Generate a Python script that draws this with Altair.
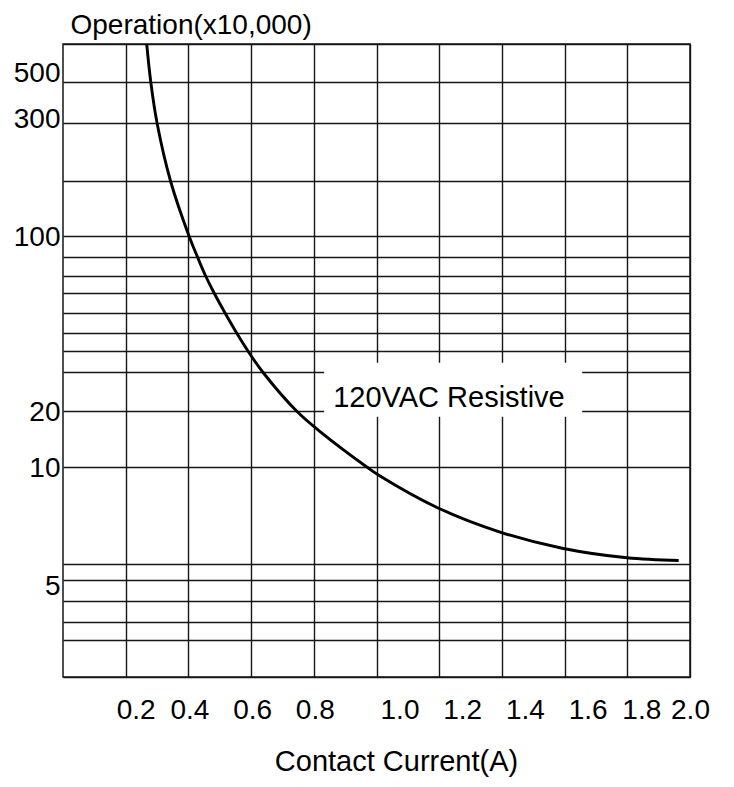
import altair as alt
import pandas as pd

# ---- data ----
current_a = [0.267, 0.280, 0.300, 0.343, 0.402, 0.429, 0.455, 0.482, 0.517, 0.554,
             0.590, 0.637, 0.745, 0.820, 0.969, 1.006, 1.198, 1.394, 1.592, 1.799, 1.964]
operations = [1000, 500, 300, 200, 100, 90, 80, 70, 60, 50,
              40, 30, 20, 15.5, 10, 9.59, 8.05, 7.10, 6.52, 6.20, 6.11]

x_ticks = [0.2, 0.4, 0.6, 0.8, 1.0, 1.2, 1.4, 1.6, 1.8, 2.0]
y_grid = [1, 2, 3, 4, 5, 6, 10, 20, 30, 40, 50, 60, 70, 80, 90, 100, 200, 300, 500, 1000]
y_labels = [5, 10, 20, 100, 300, 500]

label_text = ["120VAC Resistive"]
label_x = [1.231]
label_y = [22.9]
label_box_x = [0.833]
label_box_x2 = [1.656]
label_box_y = [18.6]
label_box_y2 = [34.0]

# ---- layout / scale settings (hand-drawn, unevenly spaced grid) ----
W, H = 627, 633
y_range = [633, 596, 578, 557, 536, 520, 423, 367, 328, 307,
           289, 269, 249, 232, 213, 192, 137, 79, 38, 0]
FONT = "Liberation Sans"
INK = "#161616"

curve = pd.DataFrame({"current": current_a, "ops": operations})
ann = pd.DataFrame({"t": label_text, "x": label_x, "y": label_y})
box = pd.DataFrame({"x": label_box_x, "x2": label_box_x2,
                    "y": label_box_y, "y2": label_box_y2})

x_scale = alt.Scale(domain=[0, 2], nice=False, zero=False)
y_scale = alt.Scale(type="log", domain=y_grid, range=y_range, nice=False)

x_axis = alt.Axis(
    values=x_ticks, format=".1f", title="Contact Current(A)",
    grid=True, gridColor=INK, gridWidth=1.4, gridOpacity=1,
    ticks=False, tickSize=0, domain=False,
    labelFont=FONT, labelFontSize=28, labelColor="black",
    labelPadding=19, labelBaseline="top", labelAlign="center",
    labelFlush=False, labelOverlap=False,
    labelOffset={"condition": [
        {"test": "datum.value < 0.3", "value": 10},
        {"test": "datum.value > 0.9 && datum.value < 1.7", "value": 23},
        {"test": "datum.value > 1.7 && datum.value < 1.9", "value": 14},
        {"test": "datum.value > 1.9", "value": 0},
    ], "value": 1},
    titleFont=FONT, titleFontSize=29, titleFontWeight="normal", titleColor="black",
    titleX=333, titleY=93, titleAlign="center", titleBaseline="alphabetic",
)

y_axis = alt.Axis(
    values=y_grid, title="Operation(x10,000)",
    labelExpr=f"indexof({y_labels}, datum.value) >= 0 ? '' + datum.value : ''",
    grid=True, gridColor=INK, gridWidth=1.4, gridOpacity=1,
    ticks=False, tickSize=0, domain=False,
    labelFont=FONT, labelFontSize=28, labelColor="black",
    labelPadding=3, labelAlign="right", labelBaseline="middle",
    labelFlush=False, labelOverlap=False,
    labelOffset={"condition": [
        {"test": "datum.value >= 400", "value": -9},
        {"test": "datum.value >= 250", "value": -4},
        {"test": "datum.value < 6", "value": 6},
    ], "value": 1},
    titleFont=FONT, titleFontSize=28, titleFontWeight="normal", titleColor="black",
    titleAngle=0, titleX=7, titleY=-11, titleAlign="left", titleBaseline="alphabetic",
)

line = alt.Chart(curve).mark_line(color="black", strokeWidth=2.9, interpolate="catmull-rom").encode(
    x=alt.X("current:Q", scale=x_scale, axis=x_axis),
    y=alt.Y("ops:Q", scale=y_scale, axis=y_axis),
)

rect = alt.Chart(box).mark_rect(fill="white").encode(
    x=alt.X("x:Q", scale=x_scale),
    x2="x2:Q",
    y=alt.Y("y:Q", scale=y_scale),
    y2="y2:Q",
)

text = alt.Chart(ann).mark_text(font=FONT, fontSize=29, color="black",
                                align="center", baseline="middle").encode(
    x=alt.X("x:Q", scale=x_scale),
    y=alt.Y("y:Q", scale=y_scale),
    text="t:N",
)

chart = alt.layer(rect, line, text).properties(
    width=W, height=H,
    autosize=alt.AutoSizeParams(type="none"),
    padding={"left": 55, "top": 36, "right": 36, "bottom": 101},
    background="white",
).configure_view(stroke=INK, strokeWidth=1.5)

chart.save("out.html", embed_options={"renderer": "svg", "actions": False})
